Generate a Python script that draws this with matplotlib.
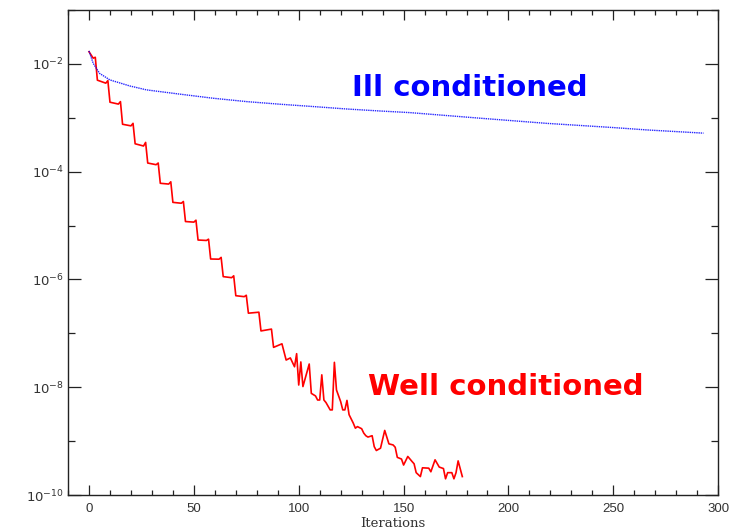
import matplotlib
matplotlib.use("Agg")
import matplotlib.pyplot as plt
from matplotlib.ticker import FixedLocator, MultipleLocator, LogFormatterSciNotation, NullFormatter
import numpy as np

# ill conditioned problem (blue, dotted)
ill_iter = [0, 2, 5, 10, 19.5, 27.5, 43.4, 59.2, 75.2, 91, 106.9, 122.8, 138.7, 153,
            186.4, 218.2, 250, 265.8, 293]
ill_res = [1.74e-2, 1.03e-2, 6.7e-3, 5.05e-3, 3.9e-3, 3.3e-3, 2.75e-3, 2.31e-3, 2.0e-3,
           1.79e-3, 1.62e-3, 1.46e-3, 1.34e-3, 1.25e-3, 9.85e-4, 7.9e-4, 6.6e-4, 5.97e-4,
           5.2e-4]

# well conditioned problem (red)
well_iter = [0, 2, 3, 4, 8, 9, 10, 14, 15, 16, 20, 21, 22, 26, 27, 28, 32, 33, 34, 38, 39,
             40, 44, 45, 46, 50, 51, 52, 56, 57, 58, 62, 63, 64, 68, 69, 70, 74, 75, 76, 81,
             82, 87, 88, 92, 94, 96, 98, 99, 100, 101, 102, 105, 106, 108, 109, 110, 111,
             112, 113, 115, 116, 117, 118, 120, 121, 122, 123, 124, 126, 127, 128, 130, 131,
             132, 133, 135, 136, 137, 139, 141, 143, 145, 146, 147, 149, 150, 152, 154, 155,
             156, 158, 159, 162, 163, 165, 167, 169, 170, 171, 173, 174, 175, 176, 178]
well_res = [1.69e-2, 1.28e-2, 1.33e-2, 5.0e-3, 4.4e-3, 4.9e-3, 1.95e-3, 1.8e-3, 2.0e-3,
            7.6e-4, 7.1e-4, 7.9e-4, 3.3e-4, 3.0e-4, 3.5e-4, 1.45e-4, 1.35e-4, 1.45e-4,
            6.1e-5, 5.9e-5, 6.5e-5, 2.7e-5, 2.6e-5, 2.8e-5, 1.19e-5, 1.16e-5, 1.26e-5,
            5.4e-6, 5.3e-6, 5.6e-6, 2.4e-6, 2.38e-6, 2.57e-6, 1.13e-6, 1.08e-6, 1.17e-6,
            5.0e-7, 4.8e-7, 5.1e-7, 2.37e-7, 2.47e-7, 1.11e-7, 1.2e-7, 5.5e-8, 6.4e-8,
            3.2e-8, 3.5e-8, 2.4e-8, 4.2e-8, 1.1e-8, 2.95e-8, 1.03e-8, 2.7e-8, 7.7e-9,
            6.9e-9, 5.8e-9, 5.8e-9, 1.7e-8, 5.8e-9, 5.2e-9, 3.8e-9, 3.8e-9, 2.9e-8, 8.9e-9,
            5.4e-9, 3.8e-9, 3.8e-9, 5.7e-9, 3.1e-9, 2.16e-9, 1.74e-9, 1.86e-9, 1.7e-9,
            1.41e-9, 1.26e-9, 1.19e-9, 1.26e-9, 7.9e-10, 6.7e-10, 7.4e-10, 1.58e-9, 8.9e-10,
            8.5e-10, 7.7e-10, 5.0e-10, 4.65e-10, 3.6e-10, 5.2e-10, 4.2e-10, 3.8e-10, 2.6e-10,
            2.2e-10, 3.2e-10, 3.15e-10, 2.7e-10, 4.5e-10, 3.3e-10, 3.1e-10, 2.0e-10, 2.6e-10,
            2.6e-10, 2.0e-10, 2.6e-10, 4.3e-10, 2.2e-10]

y_major = [1e-10, 1e-8, 1e-6, 1e-4, 1e-2]
y_minor = [1e-9, 1e-7, 1e-5, 1e-3, 1e-1]

plt.rcParams['mathtext.fontset'] = 'dejavuserif'

fig = plt.figure(figsize=(7.33, 5.30), dpi=100)
ax = fig.add_axes([0.0928, 0.066, 0.887, 0.915])

ax.plot(well_iter, well_res, color='red', lw=1.2)
ax.plot(ill_iter, ill_res, color='blue', lw=1.0, linestyle=(0, (1, 0.6)), alpha=0.85)

ax.set_yscale('log')
ax.set_xlim(-10, 300)
ax.set_ylim(1e-10, 1e-1)
ax.yaxis.set_major_locator(FixedLocator(y_major))
ax.yaxis.set_minor_locator(FixedLocator(y_minor))
ax.yaxis.set_major_formatter(LogFormatterSciNotation())
ax.yaxis.set_minor_formatter(NullFormatter())
ax.xaxis.set_major_locator(MultipleLocator(50))
ax.xaxis.set_minor_locator(MultipleLocator(10))

ax.tick_params(which='both', direction='in', top=True, right=True, color='#222222')
ax.tick_params(axis='y', which='major', length=9.4, width=0.9, labelsize=9.5,
               labelcolor='#333333', pad=3)
ax.tick_params(axis='y', which='minor', length=5, width=0.9)
ax.tick_params(axis='x', which='major', length=7.2, width=0.9, labelsize=9.5,
               labelcolor='#333333', pad=6)
ax.tick_params(axis='x', which='minor', length=3.6, width=0.9)
for lab in ax.get_xticklabels():
    lab.set_family('Liberation Sans')
for s in ax.spines.values():
    s.set_linewidth(1.0)
    s.set_color('#222222')

ax.set_xlabel('Iterations', family='DejaVu Serif', fontsize=9.5, color='#333333', labelpad=1)

ax.text(125.5, 10**-2.6, 'Ill conditioned', color='blue', fontsize=21, fontweight='bold',
        ha='left', va='baseline')
ax.text(133, 10**-8.14, 'Well conditioned', color='red', fontsize=21, fontweight='bold',
        ha='left', va='baseline')

fig.savefig('out.png', dpi=100, facecolor='white')
